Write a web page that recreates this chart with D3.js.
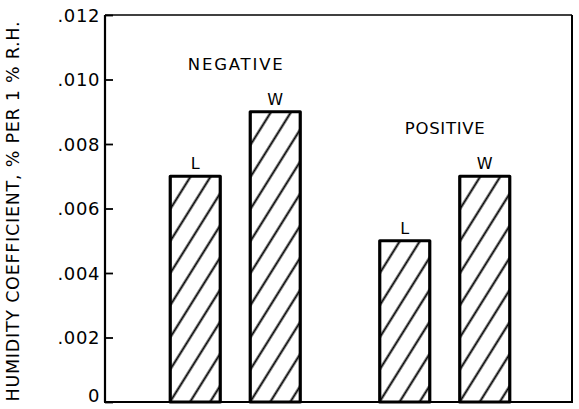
<!DOCTYPE html>
<html>
<head>
<meta charset="utf-8">
<script src="https://cdn.jsdelivr.net/npm/d3@7"></script>
<style>
  html, body { margin: 0; padding: 0; background: #fff; }
  svg { display: block; }
  text { font-family: "DejaVu Sans", sans-serif; fill: #000; }
</style>
</head>
<body>
<svg id="chart" width="579" height="409"></svg>
<script>
// ---- data ----
const groups = ["NEGATIVE", "POSITIVE"];
const series = ["L", "W"];
const negativeValues = [0.007, 0.009];
const positiveValues = [0.005, 0.007];
const yTicks = [0, 0.002, 0.004, 0.006, 0.008, 0.010, 0.012];
const yTickLabels = ["0", ".002", ".004", ".006", ".008", ".010", ".012"];
const yTitle = "HUMIDITY COEFFICIENT, % PER 1 % R.H.";

const valuesByGroup = { NEGATIVE: negativeValues, POSITIVE: positiveValues };

// ---- layout ----
const pLeft = 105, pRight = 572, pTop = 15, pBottom = 402;
const svg = d3.select("#chart");

const y = d3.scaleLinear().domain([0, 0.012]).range([pBottom, pTop]);

const x0 = d3.scaleBand().domain(groups).range([130.5, 549.5]).padding(0);
const innerW = 160;
const x1 = d3.scaleBand().domain(series)
  .range([x0.bandwidth() / 2 - innerW / 2, x0.bandwidth() / 2 + innerW / 2])
  .paddingInner(0.375).paddingOuter(0.1875);

// hatch pattern
const defs = svg.append("defs");
const pat = defs.append("pattern")
  .attr("id", "hatch")
  .attr("patternUnits", "userSpaceOnUse")
  .attr("width", 17).attr("height", 17)
  .attr("patternTransform", "rotate(32)");
pat.append("line")
  .attr("x1", 8.5).attr("y1", -2).attr("x2", 8.5).attr("y2", 19)
  .attr("stroke", "#000").attr("stroke-width", 2);

// frame
const frame = svg.append("g").attr("fill", "none").attr("stroke", "#000");
frame.append("line").attr("x1", pLeft).attr("x2", pRight).attr("y1", pTop).attr("y2", pTop).attr("stroke-width", 1.6);
frame.append("line").attr("x1", pRight).attr("x2", pRight).attr("y1", pTop).attr("y2", pBottom).attr("stroke-width", 2);
frame.append("line").attr("x1", pLeft - 1).attr("x2", pRight + 1).attr("y1", pBottom).attr("y2", pBottom).attr("stroke-width", 2);

// y axis
const yAxis = d3.axisRight(y)
  .tickValues(yTicks)
  .tickSize(8)
  .tickFormat((d, i) => yTickLabels[i]);
const ga = svg.append("g").attr("transform", `translate(${pLeft},0)`).call(yAxis);
ga.select(".domain").attr("stroke", "#000").attr("stroke-width", 2.2)
  .attr("d", `M0,${pTop}V${pBottom}`);
ga.selectAll(".tick line").attr("stroke", "#000").attr("stroke-width", 1.8);
ga.selectAll(".tick text")
  .attr("x", -5)
  .attr("text-anchor", "end")
  .attr("font-size", 18)
  .attr("font-family", "DejaVu Sans, sans-serif")
  .attr("letter-spacing", 0.6)
  .attr("dy", (d) => d === 0 ? "-0.03em" : "0.35em")
  .attr("fill", "#000");

// y title
svg.append("text")
  .attr("transform", `translate(19,${(pTop + pBottom) / 2 + 3}) rotate(-90)`)
  .attr("text-anchor", "middle")
  .attr("font-size", 17.5)
  .attr("textLength", 380)
  .attr("lengthAdjust", "spacing")
  .text(yTitle);

// bars
const gGroups = svg.selectAll(".grp").data(groups).join("g")
  .attr("class", "grp")
  .attr("transform", (g) => `translate(${x0(g)},0)`);

gGroups.selectAll("rect").data((g) => series.map((s, i) => ({ s, v: valuesByGroup[g][i] })))
  .join("rect")
  .attr("x", (d) => x1(d.s))
  .attr("width", x1.bandwidth())
  .attr("y", (d) => y(d.v))
  .attr("height", (d) => y(0) - y(d.v))
  .attr("fill", "url(#hatch)")
  .attr("stroke", "#000")
  .attr("stroke-width", 3.2)
  .attr("stroke-linejoin", "round");

gGroups.selectAll(".blab").data((g) => series.map((s, i) => ({ s, v: valuesByGroup[g][i] })))
  .join("text")
  .attr("class", "blab")
  .attr("x", (d) => x1(d.s) + x1.bandwidth() / 2)
  .attr("y", (d) => y(d.v) - 7)
  .attr("text-anchor", "middle")
  .attr("font-size", 16)
  .text((d) => d.s);

gGroups.append("text")
  .attr("x", x0.bandwidth() / 2)
  .attr("y", (g) => y(d3.max(valuesByGroup[g])) - 42)
  .attr("text-anchor", "middle")
  .attr("font-size", 16.5)
  .attr("textLength", (g) => g === "NEGATIVE" ? 95 : 80)
  .attr("lengthAdjust", "spacing")
  .text((g) => g);
</script>
</body>
</html>
